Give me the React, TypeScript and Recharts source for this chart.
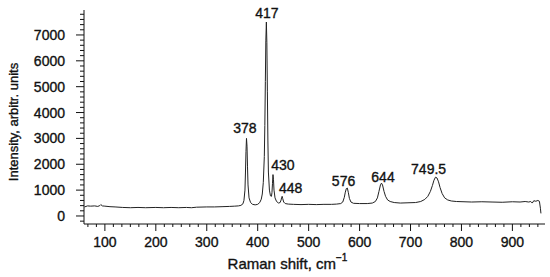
import React from 'react';
import { LineChart, Line, XAxis, YAxis, ReferenceDot } from 'recharts';

// Raman spectrum (cm^-1 vs arbitrary units)
const ramanShift = [
  60, 66, 72, 80, 86, 90, 92, 95, 100, 110, 120, 135, 150, 165, 180, 200, 215, 230, 245,
  260, 270, 280, 300, 315, 330, 345, 355, 362, 367, 371, 373, 375, 376, 377, 378, 379,
  380, 381, 383, 386, 390, 395, 400, 404, 407, 409, 411, 413, 414, 415, 416, 417, 418,
  419, 420, 421, 423, 425, 427, 428, 429, 430, 431, 432, 434, 437, 441, 444, 446, 447,
  448, 449, 451, 454, 460, 470, 485, 500, 515, 530, 545, 555, 563, 567, 570, 572, 574,
  576, 578, 580, 583, 588, 600, 615, 625, 631, 635, 638, 641, 643, 645, 648, 651, 655,
  660, 668, 680, 695, 710, 720, 728, 734, 739, 743, 746, 749, 752, 755, 758, 762, 767,
  773, 780, 790, 805, 820, 840, 860, 880, 900, 915, 925, 932, 936, 939, 942, 946, 950,
  953, 955, 956,
];
const intensity = [
  350, 390, 380, 390, 370, 400, 440, 390, 380, 360, 350, 330, 320, 330, 320, 330, 320, 330, 320,
  330, 320, 340, 350, 350, 360, 370, 380, 390, 410, 470, 600, 1000, 1700, 2500, 3000, 2700,
  1900, 1200, 700, 520, 450, 430, 450, 520, 650, 850, 1300, 2300, 3500, 5200, 6800, 7500, 6700,
  4800, 2900, 1700, 1000, 780, 760, 900, 1250, 1600, 1400, 1000, 700, 560, 500, 520, 620, 720,
  760, 680, 540, 480, 460, 450, 440, 450, 440, 450, 450, 460, 480, 540, 720, 920, 1060,
  1080, 900, 680, 540, 490, 480, 480, 500, 560, 700, 950, 1200, 1270, 1200, 950, 760, 620,
  560, 520, 500, 510, 520, 560, 640, 760, 950, 1180, 1380, 1500, 1470, 1320, 1100, 870, 700,
  620, 580, 560, 550, 540, 550, 540, 530, 550, 540, 560, 540, 560, 500, 590, 570, 600,
  570, 300, 100,
];

// peak annotations: text and where it sits (data units)
const peakLabels = ['417', '378', '430', '448', '576', '644', '749.5'];
const peakLabelX = [418, 375, 449.5, 464.5, 568.5, 646, 735.5];
const peakLabelY = [7850, 3400, 1970, 1080, 1350, 1520, 1800];

const xMajor = [100, 200, 300, 400, 500, 600, 700, 800, 900];
const yMajor = [0, 1000, 2000, 3000, 4000, 5000, 6000, 7000];

const data = ramanShift.map((x, i) => ({ x, y: intensity[i] }));

const X_MIN = 59;
const X_MAX = 964;
const Y_MIN = -310;
const Y_MAX = 7965;

// minor ticks: 5 between x majors, 4 between y majors
const xTicks: number[] = [];
for (let i = 0; i <= 60; i++) {
  const v = (i * 100) / 6;
  if (v >= X_MIN && v <= X_MAX) xTicks.push(v);
}
const yTicks: number[] = [];
for (let v = -200; v <= 7800; v += 200) yTicks.push(v);

const font = '"Liberation Sans", Arial, Helvetica, sans-serif';
const ink = '#111';
// the scanned figure's text is a bit heavier than plain regular weight
const heavy = { stroke: ink, strokeWidth: 0.35 };

const isMajor = (v: number, list: number[]) => list.some((m) => Math.abs(m - v) < 0.01);

const XTick = (props: any) => {
  const { x, y, payload } = props;
  const major = isMajor(payload.value, xMajor);
  return (
    <g>
      <line x1={x} x2={x} y1={y} y2={y + (major ? 7 : 3)} stroke={ink} strokeWidth={1} />
      {major && (
        <text x={x} y={y + 18} textAnchor="middle" dominantBaseline="central" fontSize={14} fontFamily={font} fill={ink} {...heavy}>
          {Math.round(payload.value)}
        </text>
      )}
    </g>
  );
};

const YTick = (props: any) => {
  const { x, y, payload } = props;
  const major = isMajor(payload.value, yMajor);
  return (
    <g>
      <line x1={x - (major ? 8 : 4)} x2={x} y1={y} y2={y} stroke={ink} strokeWidth={1} />
      {major && (
        <text x={x - 19} y={y} textAnchor="end" dominantBaseline="central" fontSize={14} fontFamily={font} fill={ink} {...heavy}>
          {payload.value}
        </text>
      )}
    </g>
  );
};

const XTitle = (props: any) => {
  const { viewBox } = props;
  const cx = viewBox.x + viewBox.width / 2 - 27;
  const cy = viewBox.y + 39;
  return (
    <text x={cx} y={cy} textAnchor="middle" dominantBaseline="central" fontSize={15} fontFamily={font} fill={ink} {...heavy}>
      Raman shift, cm
      <tspan dy={-6} fontSize={10}>−1</tspan>
    </text>
  );
};

export default function App() {
  return (
    <div style={{ position: 'absolute', left: 0, top: 0, width: 550, height: 277, background: '#fff' }}>
      <LineChart width={550} height={277} data={data} margin={{ top: 10, right: 5, left: 0, bottom: 0 }}>
        <XAxis
          dataKey="x"
          type="number"
          domain={[X_MIN, X_MAX]}
          ticks={xTicks}
          interval={0}
          allowDataOverflow
          height={53}
          tickSize={0}
          tickMargin={0}
          tickLine={false}
          tick={<XTick />}
          axisLine={{ stroke: ink, strokeWidth: 1 }}
          label={<XTitle />}
        />
        <YAxis
          type="number"
          domain={[Y_MIN, Y_MAX]}
          ticks={yTicks}
          interval={0}
          allowDataOverflow
          width={84}
          tickSize={0}
          tickMargin={0}
          tickLine={false}
          tick={<YTick />}
          axisLine={{ stroke: ink, strokeWidth: 1 }}
          label={{
            value: 'Intensity, arbitr. units',
            angle: -90,
            position: 'center',
            dx: -29,
            dy: 5,
            fontSize: 13,
            fontFamily: font,
            fill: ink,
            ...heavy,
          }}
        />
        <Line
          type="linear"
          dataKey="y"
          stroke="#222"
          strokeWidth={1}
          dot={false}
          isAnimationActive={false}
        />
        {peakLabels.map((t, i) => (
          <ReferenceDot
            key={t}
            x={peakLabelX[i]}
            y={peakLabelY[i]}
            r={0}
            fill="none"
            stroke="none"
            label={{ value: t, position: 'center', fontSize: 14, fontFamily: font, fill: ink, ...heavy }}
          />
        ))}
      </LineChart>
    </div>
  );
}
